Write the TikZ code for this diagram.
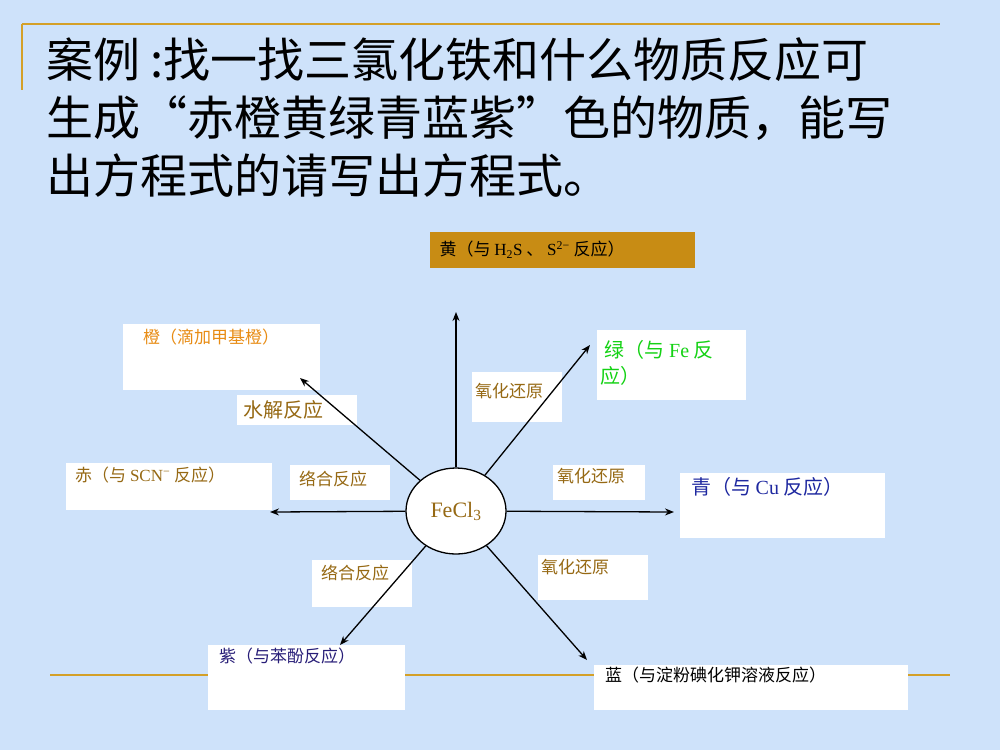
\documentclass[tikz,border=0pt]{standalone}
\usepackage{fontspec}
\usetikzlibrary{shapes.geometric,arrows.meta}
\setmainfont{Noto Sans CJK SC}
\newfontfamily\serif{Liberation Serif}
\definecolor{bg}{RGB}{206,226,250}
\definecolor{gold}{RGB}{212,160,40}
\definecolor{ygold}{RGB}{200,140,20}
\definecolor{torange}{RGB}{232,140,20}
\definecolor{tbrown}{RGB}{150,105,20}
\definecolor{tgreen}{RGB}{20,210,20}
\definecolor{tblue}{RGB}{30,40,160}
\definecolor{tpurple}{RGB}{40,30,120}

\begin{document}
\begin{tikzpicture}[x=1pt,y=-1pt,font=\fontsize{17}{20}\selectfont,
  box/.style={fill=white,draw=none},
  lbl/.style={anchor=north west,inner sep=3pt,align=left},
  arr/.style={-{Stealth[length=9pt,width=7pt]},line width=1.3pt}]
%%% background and frame lines
\fill[bg] (0,0) rectangle (1000,750);
\draw[gold,line width=2.5pt] (22,24) -- (940,24);
\draw[gold,line width=2pt] (22,24) -- (22,90);
\draw[gold,line width=2.5pt] (50,675) -- (950,675);

%%% title
\node[anchor=north west,inner sep=0pt,align=left,font=\fontsize{47}{58}\selectfont] (title) at (46,37)
 {案例 :找一找三氯化铁和什么物质反应可\\生成“赤橙黄绿青蓝紫”色的物质，能写\\出方程式的请写出方程式。};

%%% boxes
\fill[ygold] (430,232) rectangle (695,268);
\node[anchor=west] (huang) at (436,250) {黄（与 {\serif H\textsubscript{2}S} 、 {\serif S\textsuperscript{2−}} 反应）};
\fill[box] (123,324) rectangle (320,390);
\node[lbl,torange] (cheng) at (140,326) {橙（滴加甲基橙）};
\fill[box] (237,395) rectangle (357,425);
\node[anchor=west,tbrown,font=\fontsize{20}{23}\selectfont] (shuijie) at (240,410) {水解反应};
\fill[box] (472,372) rectangle (562,422);
\node[lbl,tbrown] (yh1) at (472,380) {氧化还原};
\fill[box] (597,330) rectangle (746,400);
\node[lbl,tgreen,font=\fontsize{20}{26}\selectfont] (lv) at (597,337) {\ 绿（与 {\serif Fe} 反\\应）};
\fill[box] (66,463) rectangle (272,510);
\node[lbl,tbrown] (chi) at (72,464) {赤（与 {\serif SCN\textsuperscript{−}} 反应）};
\fill[box] (290,465) rectangle (390,500);
\node[lbl,tbrown] (lh1) at (296,468) {络合反应};
\fill[box] (553,465) rectangle (645,500);
\node[lbl,tbrown] (yh2) at (554,465) {氧化还原};
\fill[box] (680,473) rectangle (885,538);
\node[lbl,tblue,font=\fontsize{20}{23}\selectfont] (qing) at (688,474) {青（与 {\serif Cu} 反应）};
\fill[box] (312,560) rectangle (412,607);
\node[lbl,tbrown] (lh2) at (318,562) {络合反应};
\fill[box] (538,555) rectangle (648,600);
\node[lbl,tbrown] (yh3) at (538,556) {氧化还原};
\fill[box] (208,645) rectangle (405,710);
\node[lbl,tpurple] (zi) at (216,645) {紫（与苯酚反应）};
\fill[box] (594,665) rectangle (908,710);
\node[lbl] (lan) at (602,664) {蓝（与淀粉碘化钾溶液反应）};

%%% centre
\node[draw,line width=1.3pt,fill=white,ellipse,minimum width=100pt,minimum height=86pt,inner sep=0pt,
  font=\serif\fontsize{22}{26}\selectfont,text=tbrown] (fe) at (456,511) {FeCl\textsubscript{3}};

\coordinate (eU) at (456,312);
\coordinate (eUL) at (300,378);
\coordinate (eUR) at (590,345);
\coordinate (eL) at (270,512);
\coordinate (eR) at (674,512);
\coordinate (eDL) at (340,645);
\coordinate (eDR) at (587,660);
\foreach \e in {eU,eUL,eUR,eL,eR,eDL,eDR}
  \draw[arr] (fe) -- (\e);
\end{tikzpicture}
\end{document}
